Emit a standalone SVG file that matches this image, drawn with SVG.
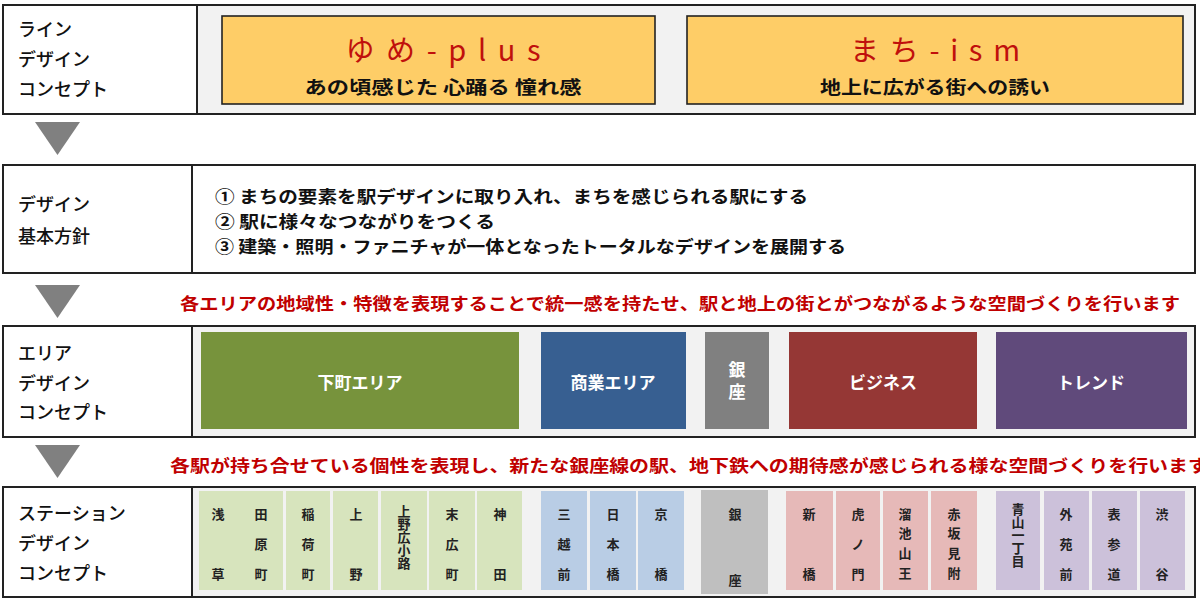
<svg xmlns="http://www.w3.org/2000/svg" width="1200" height="613" viewBox="0 0 1200 613">
<style>
.frame{fill:#ffffff;stroke:#222222;stroke-width:2}
.inner{fill:#f2f2f2;stroke:none}
.div{stroke:#222222;stroke-width:2}
.lbl{font-family:"Noto Sans CJK JP","Noto Sans CJK SC",sans-serif;font-size:18px;font-weight:500;fill:#111111;dominant-baseline:central}
.body{font-family:"Noto Sans CJK JP","Noto Sans CJK SC",sans-serif;font-size:17px;font-weight:bold;fill:#111111;dominant-baseline:central}
.red{font-family:"Noto Sans CJK JP","Noto Sans CJK SC",sans-serif;font-size:17px;font-weight:bold;fill:#c00000;dominant-baseline:central}
.ybox{fill:#fecd67;stroke:#222222;stroke-width:1.6}
.title{font-family:"Noto Sans CJK JP","Noto Sans CJK SC",sans-serif;font-size:29px;fill:#c0100c;text-anchor:middle;dominant-baseline:central}
.sub{font-family:"Noto Sans CJK JP","Noto Sans CJK SC",sans-serif;font-size:18px;font-weight:bold;fill:#111111;text-anchor:middle;dominant-baseline:central}
.area{font-family:"Noto Sans CJK JP","Noto Sans CJK SC",sans-serif;font-size:17px;font-weight:bold;fill:#ffffff;text-anchor:middle;dominant-baseline:central}
.areav{font-family:"Noto Sans CJK JP","Noto Sans CJK SC",sans-serif;font-size:17px;font-weight:bold;fill:#ffffff;text-anchor:middle;writing-mode:vertical-rl;letter-spacing:5px}
.st{font-family:"Noto Sans CJK JP","Noto Sans CJK SC",sans-serif;font-size:13px;font-weight:bold;fill:#222222;text-anchor:middle;dominant-baseline:central}
.s5{font-family:"Noto Sans CJK JP","Noto Sans CJK SC",sans-serif;font-size:13px;font-weight:bold;fill:#222222;text-anchor:middle;writing-mode:vertical-rl}
.g{fill:#d7e4bd}.b{fill:#b9cde5}.gr{fill:#bfbfbf}.p{fill:#e6b9b8}.v{fill:#ccc1da}
.tri{fill:#808080}
</style>

<g id="row-line-design">
  <rect class="frame" x="3" y="5" width="1192" height="109"/>
  <rect class="inner" x="198" y="6" width="996" height="107"/>
  <line class="div" x1="197" y1="5" x2="197" y2="114"/>
  <text class="lbl" x="18" y="28">ライン</text>
  <text class="lbl" x="18" y="58">デザイン</text>
  <text class="lbl" x="18" y="88">コンセプト</text>
</g>
<g id="node-yume-plus">
  <rect class="ybox" x="222" y="16" width="433" height="88"/>
  <text class="title" x="443" y="48" textLength="195" lengthAdjust="spacing">ゆめ-plus</text>
  <text class="sub" x="443" y="86" textLength="277" lengthAdjust="spacingAndGlyphs">あの頃感じた 心踊る 憧れ感</text>
</g>
<g id="node-machi-ism">
  <rect class="ybox" x="687" y="16" width="496" height="88"/>
  <text class="title" x="935" y="48" textLength="170" lengthAdjust="spacing">まち-ism</text>
  <text class="sub" x="935" y="86" textLength="230" lengthAdjust="spacingAndGlyphs">地上に広がる街への誘い</text>
</g>

<g id="row-basic-policy">
  <rect class="frame" x="3" y="165" width="1192" height="108"/>
  <line class="div" x1="192" y1="165" x2="192" y2="273"/>
  <text class="lbl" x="18" y="203">デザイン</text>
  <text class="lbl" x="18" y="235">基本方針</text>
  <text class="body" x="215" y="195" textLength="593" lengthAdjust="spacingAndGlyphs">① まちの要素を駅デザインに取り入れ、まちを感じられる駅にする</text>
  <text class="body" x="215" y="220" textLength="280" lengthAdjust="spacingAndGlyphs">② 駅に様々なつながりをつくる</text>
  <text class="body" x="215" y="245" textLength="631" lengthAdjust="spacingAndGlyphs">③ 建築・照明・ファニチャが一体となったトータルなデザインを展開する</text>
</g>

<g id="note-area">
  <text class="red" x="180" y="302" textLength="1000" lengthAdjust="spacingAndGlyphs">各エリアの地域性・特徴を表現することで統一感を持たせ、駅と地上の街とがつながるような空間づくりを行います</text>
</g>

<g id="row-area-design">
  <rect class="frame" x="3" y="326" width="1192" height="111"/>
  <rect class="inner" x="193" y="327" width="1001" height="109"/>
  <line class="div" x1="192" y1="326" x2="192" y2="437"/>
  <text class="lbl" x="18" y="352">エリア</text>
  <text class="lbl" x="18" y="382">デザイン</text>
  <text class="lbl" x="18" y="411">コンセプト</text>
</g>
<g id="area-shitamachi">
  <rect x="201" y="332" width="318" height="97" fill="#77933c"/>
  <text class="area" x="360" y="381">下町エリア</text>
</g>
<g id="area-shogyo">
  <rect x="541" y="332" width="145" height="97" fill="#375f91"/>
  <text class="area" x="613" y="381">商業エリア</text>
</g>
<g id="area-ginza">
  <rect x="705" y="332" width="64" height="97" fill="#808080"/>
  <text class="areav" x="737" y="383">銀座</text>
</g>
<g id="area-business">
  <rect x="789" y="332" width="188" height="97" fill="#953735"/>
  <text class="area" x="883" y="381">ビジネス</text>
</g>
<g id="area-trend">
  <rect x="996" y="332" width="191" height="97" fill="#604a7b"/>
  <text class="area" x="1091" y="381">トレンド</text>
</g>

<g id="note-station">
  <text class="red" x="170" y="464" textLength="1038" lengthAdjust="spacingAndGlyphs">各駅が持ち合せている個性を表現し、新たな銀座線の駅、地下鉄への期待感が感じられる様な空間づくりを行います</text>
</g>

<g id="row-station-design">
  <rect class="frame" x="3" y="487" width="1192" height="110"/>
  <rect class="inner" x="193" y="488" width="1001" height="108"/>
  <line class="div" x1="192" y1="487" x2="192" y2="597"/>
  <text class="lbl" x="18" y="512">ステーション</text>
  <text class="lbl" x="18" y="542">デザイン</text>
  <text class="lbl" x="18" y="572">コンセプト</text>
</g>

<g id="stations-shitamachi">
  <rect class="g" x="199" y="491" width="84" height="99"/>
  <text class="st" x="218" y="513">浅</text><text class="st" x="218" y="573">草</text>
  <text class="st" x="261" y="513">田</text><text class="st" x="261" y="543">原</text><text class="st" x="261" y="573">町</text>
  <rect class="g" x="286" y="491" width="44" height="99"/>
  <text class="st" x="308" y="513">稲</text><text class="st" x="308" y="543">荷</text><text class="st" x="308" y="573">町</text>
  <rect class="g" x="333" y="491" width="45" height="99"/>
  <text class="st" x="356" y="513">上</text><text class="st" x="356" y="573">野</text>
  <rect class="g" x="381" y="491" width="46" height="99"/>
  <text class="s5" x="404" y="537">上野広小路</text>
  <rect class="g" x="429" y="491" width="46" height="99"/>
  <text class="st" x="452" y="513">末</text><text class="st" x="452" y="543">広</text><text class="st" x="452" y="573">町</text>
  <rect class="g" x="477" y="491" width="45" height="99"/>
  <text class="st" x="500" y="513">神</text><text class="st" x="500" y="573">田</text>
</g>

<g id="stations-shogyo">
  <rect class="b" x="541" y="491" width="46" height="99"/>
  <text class="st" x="564" y="513">三</text><text class="st" x="564" y="543">越</text><text class="st" x="564" y="573">前</text>
  <rect class="b" x="590" y="491" width="46" height="99"/>
  <text class="st" x="613" y="513">日</text><text class="st" x="613" y="543">本</text><text class="st" x="613" y="573">橋</text>
  <rect class="b" x="638" y="491" width="46" height="99"/>
  <text class="st" x="661" y="513">京</text><text class="st" x="661" y="573">橋</text>
</g>

<g id="stations-ginza">
  <rect class="gr" x="701" y="490" width="67" height="104"/>
  <text class="st" x="735" y="513">銀</text><text class="st" x="735" y="579">座</text>
</g>

<g id="stations-business">
  <rect class="p" x="786" y="491" width="47" height="99"/>
  <text class="st" x="809" y="513">新</text><text class="st" x="809" y="573">橋</text>
  <rect class="p" x="836" y="491" width="44" height="99"/>
  <text class="st" x="858" y="513">虎</text><text class="st" x="858" y="543">ノ</text><text class="st" x="858" y="573">門</text>
  <rect class="p" x="883" y="491" width="45" height="99"/>
  <text class="st" x="905" y="513">溜</text><text class="st" x="905" y="532">池</text><text class="st" x="905" y="552">山</text><text class="st" x="905" y="572">王</text>
  <rect class="p" x="931" y="491" width="46" height="99"/>
  <text class="st" x="954" y="513">赤</text><text class="st" x="954" y="532">坂</text><text class="st" x="954" y="552">見</text><text class="st" x="954" y="572">附</text>
</g>

<g id="stations-trend">
  <rect class="v" x="996" y="491" width="44" height="99"/>
  <text class="s5" x="1018" y="535">青山一丁目</text>
  <rect class="v" x="1044" y="491" width="45" height="99"/>
  <text class="st" x="1066" y="513">外</text><text class="st" x="1066" y="543">苑</text><text class="st" x="1066" y="573">前</text>
  <rect class="v" x="1092" y="491" width="45" height="99"/>
  <text class="st" x="1114" y="513">表</text><text class="st" x="1114" y="543">参</text><text class="st" x="1114" y="573">道</text>
  <rect class="v" x="1140" y="491" width="45" height="99"/>
  <text class="st" x="1162" y="513">渋</text><text class="st" x="1162" y="573">谷</text>
</g>

<g id="connectors">
  <polygon class="tri" points="35,122 80,122 57.5,155"/>
  <polygon class="tri" points="35,285 80,285 57.5,318"/>
  <polygon class="tri" points="35,445 80,445 57.5,478"/>
</g>
</svg>
